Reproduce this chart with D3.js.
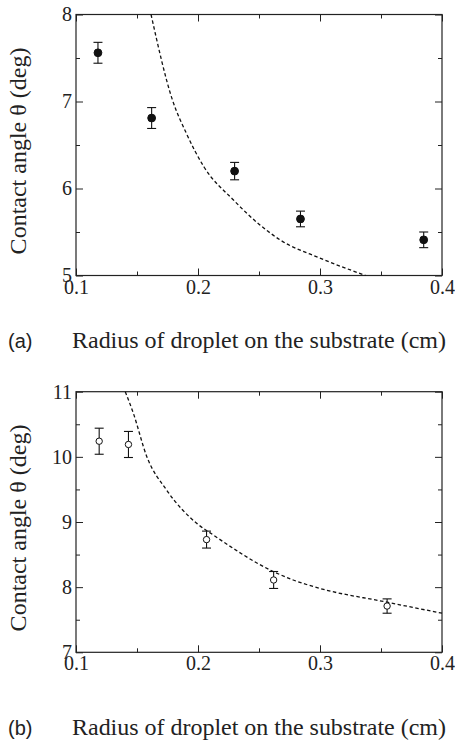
<!DOCTYPE html>
<meta charset="utf-8">
<style>
body { margin: 0; background: #fff; }
.tick text { font-family: "Liberation Serif", "Times New Roman", serif; font-size: 20px; fill: #222; }
.tick line { stroke: #222; }
.curve { fill: none; stroke: #111; stroke-width: 1.3px; stroke-dasharray: 3.5,2.5; }
</style>
<body>
<script src="https://cdn.jsdelivr.net/npm/d3@7"></script>
<script>

// panel (a): filled circles
var radiusA = [0.118, 0.162, 0.230, 0.284, 0.385];
var angleA  = [7.56, 6.81, 6.20, 5.65, 5.41];
var errA    = [0.12, 0.12, 0.10, 0.09, 0.09];
var fitRadiusA = [0.1615, 0.179, 0.1906, 0.2048, 0.2289, 0.25, 0.2672, 0.30, 0.3374];
var fitAngleA  = [8.0, 7.02, 6.63, 6.25, 5.87, 5.59, 5.41, 5.20, 5.0];

// panel (b): open circles
var radiusB = [0.119, 0.143, 0.207, 0.262, 0.355];
var angleB  = [10.24, 10.19, 8.73, 8.11, 7.71];
var errB    = [0.20, 0.20, 0.13, 0.13, 0.11];
var fitRadiusB = [0.1404, 0.147, 0.1579, 0.1743, 0.1989, 0.2126, 0.2617, 0.278, 0.30, 0.3519, 0.40];
var fitAngleB  = [11.0, 10.67, 10.01, 9.49, 8.98, 8.80, 8.24, 8.11, 7.98, 7.78, 7.60];

var xTicks = [0.1, 0.2, 0.3, 0.4];
var xMinor = [0.15, 0.25, 0.35];
var yTicksA = [5, 6, 7, 8];
var yMinorA = [5.5, 6.5, 7.5];
var yTicksB = [7, 8, 9, 10, 11];
var yMinorB = [7.5, 8.5, 9.5, 10.5];

var xTitle = "Radius of droplet on the substrate (cm)";
var yTitle = "Contact angle \u03b8 (deg)";

var svg = d3.select("body").append("svg")
    .attr("width", 455)
    .attr("height", 741);

function drawPanel(p) {
  var x = d3.scaleLinear().domain([0.1, 0.4]).range([76, 442]);
  var y = d3.scaleLinear().domain(p.yDomain).range([p.bottom, p.top]);
  var g = svg.append("g");

  // major + minor ticks, all pointing inward
  function axes(sel, axisFn, scale, pos, major, minor, labels, fmt) {
    var a = axisFn(scale).tickValues(major).tickSizeInner(-7).tickSizeOuter(0).tickPadding(4);
    a.tickFormat(labels ? d3.format(fmt) : "");
    var m = axisFn(scale).tickValues(minor).tickSizeInner(-4).tickSizeOuter(0).tickFormat("");
    sel.append("g").attr("transform", pos).call(a).call(function(s) { s.select(".domain").remove(); });
    sel.append("g").attr("transform", pos).call(m).call(function(s) { s.select(".domain").remove(); });
  }
  axes(g, d3.axisBottom, x, "translate(0," + p.bottom + ")", xTicks, xMinor, true, ".1f");
  axes(g, d3.axisTop, x, "translate(0," + p.top + ")", xTicks, xMinor, false);
  axes(g, d3.axisLeft, y, "translate(76,0)", p.yTicks, p.yMinor, true, "d");
  axes(g, d3.axisRight, y, "translate(442,0)", p.yTicks, p.yMinor, false);

  g.append("rect")
      .attr("x", 76).attr("y", p.top)
      .attr("width", 442 - 76).attr("height", p.bottom - p.top)
      .attr("fill", "none").attr("stroke", "#222").attr("stroke-width", 1.2);

  // dashed model curve
  var line = d3.line()
      .curve(d3.curveMonotoneX)
      .x(function(d) { return x(d[0]); })
      .y(function(d) { return y(d[1]); });
  g.append("path")
      .datum(d3.zip(p.fitX, p.fitY))
      .attr("class", "curve")
      .attr("d", line);

  // error bars
  var pts = p.xs.map(function(v, i) { return {x: v, y: p.ys[i], e: p.errs[i]}; });
  var eb = g.selectAll(".eb").data(pts).enter().append("g").attr("stroke", "#111").attr("stroke-width", 1.1);
  eb.append("line")
      .attr("x1", function(d) { return x(d.x); }).attr("x2", function(d) { return x(d.x); })
      .attr("y1", function(d) { return y(d.y - d.e); }).attr("y2", function(d) { return y(d.y + d.e); });
  [1, -1].forEach(function(s) {
    eb.append("line")
        .attr("x1", function(d) { return x(d.x) - 4.5; }).attr("x2", function(d) { return x(d.x) + 4.5; })
        .attr("y1", function(d) { return y(d.y + s * d.e); }).attr("y2", function(d) { return y(d.y + s * d.e); });
  });

  g.selectAll(".pt").data(pts).enter().append("circle")
      .attr("cx", function(d) { return x(d.x); })
      .attr("cy", function(d) { return y(d.y); })
      .attr("r", p.filled ? 3.9 : 3.2)
      .attr("fill", p.filled ? "#111" : "#fff")
      .attr("stroke", "#111")
      .attr("stroke-width", 1);

  // y title
  svg.append("text")
      .attr("transform", "translate(26," + ((p.top + p.bottom) / 2 + 6) + ") rotate(-90)")
      .attr("text-anchor", "middle")
      .style("font-family", "'Liberation Serif', 'Times New Roman', serif")
      .style("font-size", "24px")
      .style("fill", "#222")
      .text(yTitle);

  // bottom caption
  svg.append("text")
      .attr("x", 8).attr("y", p.caption)
      .style("font-family", "'Liberation Sans', Arial, sans-serif")
      .style("font-size", "20px")
      .style("fill", "#222")
      .text(p.tag);
  svg.append("text")
      .attr("x", 72).attr("y", p.caption)
      .attr("textLength", 374)
      .style("font-family", "'Liberation Serif', 'Times New Roman', serif")
      .style("font-size", "24px")
      .style("fill", "#222")
      .text(xTitle);
}

drawPanel({
  yDomain: [5, 8], top: 14.5, bottom: 275.5, yTicks: yTicksA, yMinor: yMinorA,
  xs: radiusA, ys: angleA, errs: errA, fitX: fitRadiusA, fitY: fitAngleA,
  filled: true, tag: "(a)", caption: 348
});

drawPanel({
  yDomain: [7, 11], top: 391.7, bottom: 652.3, yTicks: yTicksB, yMinor: yMinorB,
  xs: radiusB, ys: angleB, errs: errB, fitX: fitRadiusB, fitY: fitAngleB,
  filled: false, tag: "(b)", caption: 735
});

</script>
</body>
